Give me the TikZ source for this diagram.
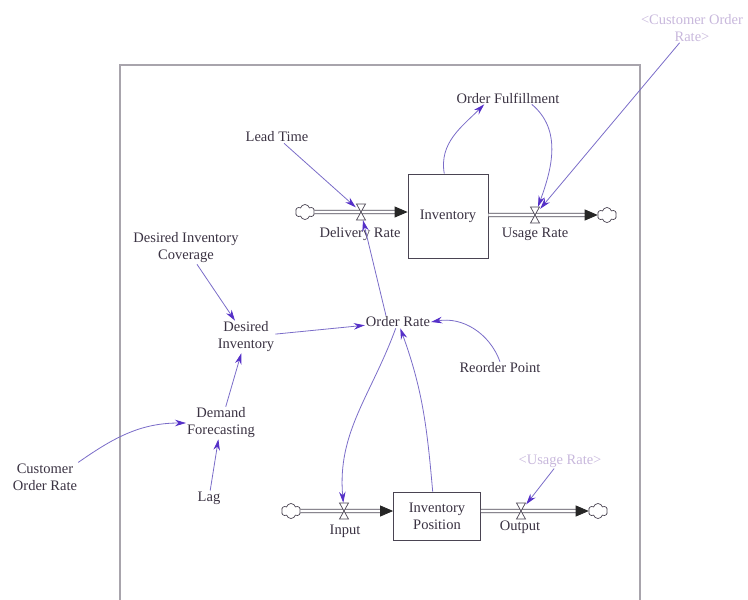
\documentclass[tikz,border=0pt]{standalone}
\usepackage{fontspec}
\setmainfont{Liberation Serif}
\usetikzlibrary{arrows.meta,shapes.symbols}
\definecolor{linkcol}{HTML}{7A6CC8}
\definecolor{tipcol}{HTML}{5530C8}
\definecolor{txtcol}{HTML}{3A3242}
\definecolor{ghost}{HTML}{C8B8DC}
\definecolor{pipecol}{HTML}{4A4452}
\definecolor{framecol}{HTML}{A8A4AC}
\tikzset{
  lbl/.style={text=txtcol, align=center, inner sep=1pt, font=\fontsize{14.5}{17}\selectfont},
  shadowlbl/.style={lbl, text=ghost},
  link/.style={draw=linkcol, line width=0.8pt, -{Stealth[length=11pt,width=6.5pt,color=tipcol]}},
  pipe/.style={draw=pipecol, double=white, double distance=2.6pt, line width=0.8pt, -{Triangle[length=13pt,width=11pt,color=black!85]}},
  stock/.style={lbl, draw=pipecol, line width=0.8pt, fill=white, minimum width=80pt, minimum height=84pt},
  sink/.style={cloud, cloud puffs=6, aspect=1.2, draw=pipecol, line width=0.7pt, minimum width=19pt, minimum height=15pt, inner sep=0pt, fill=white},
  valve/.style={minimum width=10pt, minimum height=16pt, inner sep=0pt},
  valvepic/.pic={\draw[pipecol, line width=0.7pt, fill=white] (-4.5,-8) -- (4.5,-8) -- (0,0) -- cycle (-4.5,8) -- (4.5,8) -- (0,0) -- cycle;}
}
\begin{document}
\begin{tikzpicture}[x=1pt,y=-1pt]
\useasboundingbox (0,0) rectangle (748,600);
% Frame
\draw[framecol, line width=1.2pt] (120,600) -- (120,65) -- (640,65) -- (640,600);
% Stocks and clouds
\node[stock] (inv) at (448,216) {Inventory};
\node[stock, minimum width=87pt, minimum height=48pt] (invpos) at (437,516) {Inventory\\Position};
\node[sink] (c1) at (305,212) {};
\node[sink] (c2) at (607,215) {};
\node[sink] (c3) at (291,511) {};
\node[sink] (c4) at (598,511) {};
% Valves
\node[valve] (deliv) at (361,212) {};
\node[valve] (usage) at (535,215) {};
\node[valve] (input) at (344,511) {};
\node[valve] (output) at (521,511) {};
% Pipes
\draw[pipe] (c1.east) -- (c1 -| inv.west);
\draw[pipe] (inv.east |- usage) -- (c2.west);
\draw[pipe] (c3.east) -- (c3 -| invpos.west);
\draw[pipe] (invpos.east |- output) -- (c4.west);
\foreach \v in {deliv,usage,input,output}
  \pic at (\v) {valvepic};
% Flow labels
\node[lbl] (delivlbl) at (360,234) {Delivery Rate};
\node[lbl] (usagelbl) at (535,234) {Usage Rate};
\node[lbl] (inputlbl) at (345,531) {Input};
\node[lbl] (outputlbl) at (520,527) {Output};
% Variables
\node[lbl] (orderful) at (508,98) {Order Fulfillment};
\node[lbl] (leadtime) at (277,137) {Lead Time};
\node[shadowlbl] (custref) at (692,28) {<Customer Order\\Rate>};
\node[lbl] (ordrate) at (398,322) {Order Rate};
\node[lbl] (desinvcov) at (186,248) {Desired Inventory\\Coverage};
\node[lbl] (desinv) at (246,337) {Desired\\Inventory};
\node[lbl] (reorder) at (500,368) {Reorder Point};
\node[lbl] (demfc) at (221,423) {Demand\\Forecasting};
\node[lbl] (custrate) at (45,477) {Customer\\Order Rate};
\node[lbl] (lag) at (209,498) {Lag};
\node[shadowlbl] (usageref) at (560,461) {<Usage Rate>};
% Links
\draw[link] (inv.95) to[out=100,in=225] (orderful.195);
\draw[link] (orderful.345) to[out=-40,in=70] (usage);
\draw[link] (custref) -- (usage);
\draw[link] (leadtime) -- (deliv);
\draw[link] ([xshift=-12pt]ordrate.north) -- (deliv);
\draw[link] (desinvcov) -- (desinv);
\draw[link] (desinv) -- (ordrate);
\draw[link] (reorder.north) to[out=110,in=10] (ordrate.east);
\draw[link] (demfc) -- (desinv);
\draw[link] (custrate.north east) to[out=35,in=180] (demfc.west);
\draw[link] (lag) -- (demfc);
\draw[link] (ordrate.250) to[out=250,in=95] (input);
\draw[link] (invpos.100) to[out=95,in=-70] (ordrate.290);
\draw[link] (usageref) -- (output);
\end{tikzpicture}
\end{document}
